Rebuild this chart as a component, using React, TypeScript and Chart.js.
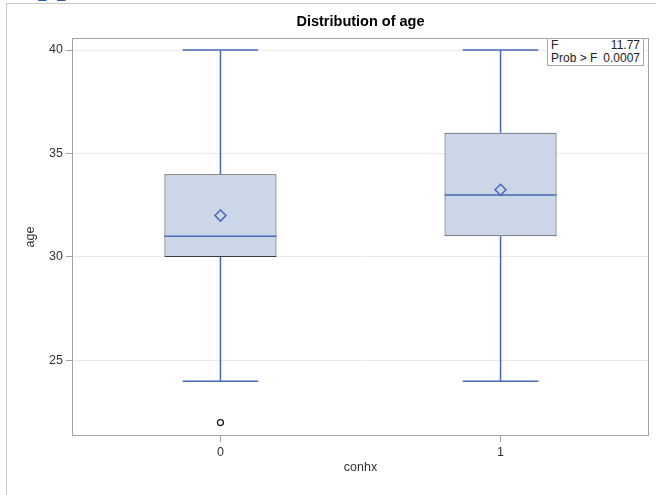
import React, { useEffect, useRef } from "react";
import { Chart, registerables } from "chart.js";

Chart.register(...registerables);

// ---- data ----
const groups = [0, 1];
const groupLabels = ["0", "1"];
const q1 = [30, 31];
const median = [31, 33];
const q3 = [34, 36];
const whiskerLow = [24, 24];
const whiskerHigh = [40, 40];
const means = [32, 33.25];
const outlierGroup = [0];
const outlierValue = [22];
const yTicks = [25, 30, 35, 40];
const statLabels = ["F", "Prob > F"];
const statValues = ["11.77", "0.0007"];

const BLUE = "#4569b8";
const HALF_BOX = 0.2;
const HALF_CAP = 0.135;

const framePlugin = {
  id: "frame",
  beforeDatasetsDraw(chart: any) {
    const { ctx, chartArea } = chart;
    ctx.save();
    ctx.strokeStyle = "#a3a3a3";
    ctx.lineWidth = 1;
    ctx.strokeRect(
      chartArea.left + 0.5,
      chartArea.top + 0.5,
      chartArea.right - chartArea.left - 1,
      chartArea.bottom - chartArea.top - 1
    );
    ctx.restore();
  },
};

export default function App() {
  const ref = useRef<HTMLCanvasElement | null>(null);

  useEffect(() => {
    if (!ref.current) return;

    const whiskerPts: any[] = [];
    const medianPts: any[] = [];
    groups.forEach((g, i) => {
      whiskerPts.push({ x: g, y: q3[i] }, { x: g, y: whiskerHigh[i] }, { x: g, y: null });
      whiskerPts.push({ x: g, y: whiskerLow[i] }, { x: g, y: q1[i] }, { x: g, y: null });
      whiskerPts.push({ x: g - HALF_CAP, y: whiskerHigh[i] }, { x: g + HALF_CAP, y: whiskerHigh[i] }, { x: g, y: null });
      whiskerPts.push({ x: g - HALF_CAP, y: whiskerLow[i] }, { x: g + HALF_CAP, y: whiskerLow[i] }, { x: g, y: null });
      medianPts.push({ x: g - HALF_BOX, y: median[i] }, { x: g + HALF_BOX, y: median[i] }, { x: g, y: null });
    });

    const chart = new Chart(ref.current, {
      data: {
        datasets: [
          {
            type: "bar",
            label: "box",
            data: groups.map((g, i) => ({ x: g, y: [q1[i], q3[i]] })) as any,
            backgroundColor: "#cbd6e8",
            borderColor: "#3a3a3a",
            borderWidth: 1,
            borderSkipped: false,
            barPercentage: 0.8,
            categoryPercentage: 0.5,
            order: 5,
          } as any,
          {
            type: "line",
            label: "whiskers",
            data: whiskerPts,
            borderColor: BLUE,
            borderWidth: 1.5,
            pointRadius: 0,
            spanGaps: false,
            fill: false,
            order: 3,
          } as any,
          {
            type: "line",
            label: "median",
            data: medianPts,
            borderColor: BLUE,
            borderWidth: 1.5,
            pointRadius: 0,
            spanGaps: false,
            fill: false,
            order: 2,
          } as any,
          {
            type: "scatter",
            label: "mean",
            data: groups.map((g, i) => ({ x: g, y: means[i] })),
            pointStyle: "rectRot",
            pointRadius: 5.5,
            borderColor: BLUE,
            borderWidth: 1.5,
            backgroundColor: "rgba(0,0,0,0)",
            order: 1,
          } as any,
          {
            type: "scatter",
            label: "outliers",
            data: outlierGroup.map((g, i) => ({ x: g, y: outlierValue[i] })),
            pointStyle: "circle",
            pointRadius: 3,
            borderColor: "#111",
            borderWidth: 1.2,
            backgroundColor: "#fff",
            order: 1,
          } as any,
        ],
      },
      options: {
        animation: false,
        responsive: false,
        maintainAspectRatio: false,
        events: [],
        layout: { padding: { left: 0, right: 4, top: 0, bottom: 0 } },
        plugins: {
          legend: { display: false },
          tooltip: { enabled: false },
          title: {
            display: true,
            text: "Distribution of age",
            fullSize: false,
            color: "#000",
            font: { family: "Liberation Sans, Arial, sans-serif", size: 14.5, weight: "bold" },
            lineHeight: 1.2,
            padding: { top: 13.5, bottom: 7.1 },
          },
        },
        scales: {
          x: {
            type: "linear",
            offset: false,
            min: -0.53,
            max: 1.53,
            afterBuildTicks: (s: any) => {
              s.ticks = groups.map((v) => ({ value: v }));
            },
            afterFit: (s: any) => {
              s.height = 59;
            },
            ticks: {
              callback: (v: any) => groupLabels[groups.indexOf(Number(v))] ?? "",
              color: "#333",
              padding: 3,
              maxRotation: 0,
              font: { family: "Liberation Sans, Arial, sans-serif", size: 12.5 },
            },
            grid: {
              offset: false,
              drawOnChartArea: false,
              drawTicks: true,
              tickLength: 6,
              tickColor: "#a3a3a3",
            },
            border: { display: false },
            title: {
              display: true,
              text: "conhx",
              color: "#333",
              font: { family: "Liberation Sans, Arial, sans-serif", size: 12.5 },
              padding: { top: 0, bottom: 20 },
            },
          },
          y: {
            type: "linear",
            min: 21.35,
            max: 40.58,
            afterBuildTicks: (s: any) => {
              s.ticks = yTicks.map((v) => ({ value: v }));
            },
            afterFit: (s: any) => {
              s.width = 72;
            },
            ticks: {
              color: "#333",
              padding: 3,
              font: { family: "Liberation Sans, Arial, sans-serif", size: 12.5 },
            },
            grid: { color: "#ebebeb", drawTicks: true, tickLength: 6, tickColor: "#a3a3a3" },
            border: { display: false },
            title: {
              display: true,
              text: "age",
              color: "#333",
              font: { family: "Liberation Sans, Arial, sans-serif", size: 12.5 },
              padding: { top: 23, bottom: 0 },
            },
          },
        },
      },
      plugins: [framePlugin],
    } as any);

    return () => chart.destroy();
  }, []);

  return (
    <div
      style={{
        position: "absolute",
        left: 0,
        top: 0,
        width: 656,
        height: 495,
        overflow: "hidden",
        background: "#fff",
      }}
    >
      <div
        style={{
          position: "absolute",
          left: 10,
          top: -39,
          fontFamily: "Liberation Serif, Times New Roman, serif",
          fontSize: 38,
          lineHeight: "38px",
          color: "#2e58a8",
          whiteSpace: "nowrap",
        }}
      >
        Appendix
      </div>
      <div
        style={{
          position: "absolute",
          left: 6,
          top: 3,
          width: 700,
          height: 600,
          borderLeft: "1px solid #c8c8c8",
          borderTop: "1px solid #c8c8c8",
        }}
      />
      <canvas ref={ref} width={656} height={495} style={{ position: "absolute", left: 0, top: 0 }} />
      <div
        style={{
          position: "absolute",
          left: 547,
          top: 38,
          width: 97,
          height: 28,
          boxSizing: "border-box",
          border: "1px solid #a8a8a8",
          background: "#fff",
          fontFamily: "Liberation Sans, Arial, sans-serif",
          fontSize: 12,
          lineHeight: "13px",
          color: "#222",
          padding: "0 3px",
        }}
      >
        {statLabels.map((l, i) => (
          <div key={l} style={{ display: "flex", justifyContent: "space-between" }}>
            <span>{l}</span>
            <span>{statValues[i]}</span>
          </div>
        ))}
      </div>
    </div>
  );
}
